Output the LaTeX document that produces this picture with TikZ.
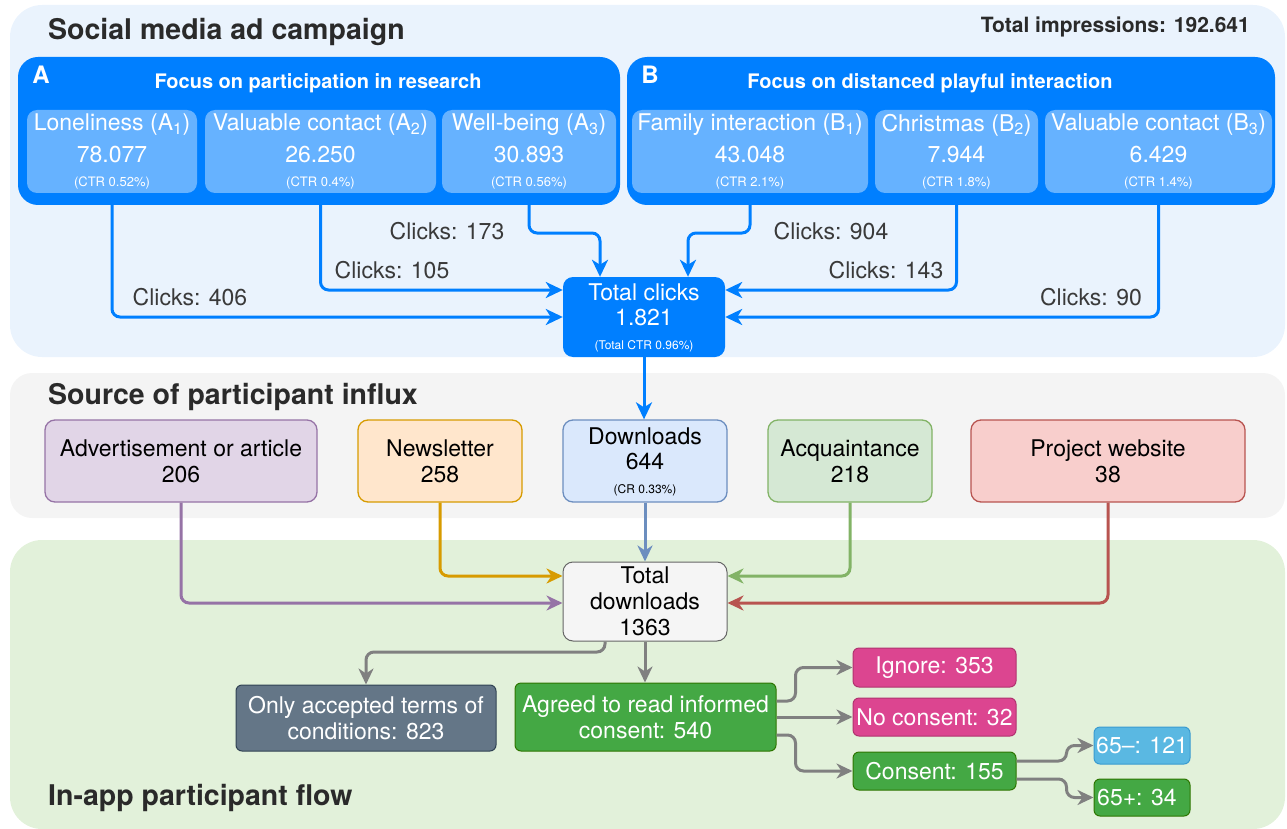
\documentclass[tikz,border=0pt]{standalone}
\usepackage{fontspec}
\setmainfont{TeX Gyre Heros}
\usetikzlibrary{arrows.meta}
\definecolor{cblue}{HTML}{007FFF}
\definecolor{csub}{HTML}{66B2FF}
\definecolor{topbg}{HTML}{EAF3FD}
\definecolor{midbg}{HTML}{F4F4F4}
\definecolor{botbg}{HTML}{E2F1DA}
\definecolor{ttl}{HTML}{2A2A2A}
\definecolor{lbl}{HTML}{3A3A3A}
\definecolor{purF}{HTML}{E1D5E7}\definecolor{purS}{HTML}{9673A6}
\definecolor{oraF}{HTML}{FFE6CC}\definecolor{oraS}{HTML}{D79B00}
\definecolor{bluF}{HTML}{DAE8FC}\definecolor{bluS}{HTML}{6C8EBF}
\definecolor{grnF}{HTML}{D5E8D4}\definecolor{grnS}{HTML}{82B366}
\definecolor{redF}{HTML}{F8CECC}\definecolor{redS}{HTML}{B85450}
\definecolor{gryF}{HTML}{F5F5F5}\definecolor{gryS}{HTML}{666666}
\definecolor{slateF}{HTML}{647687}\definecolor{slateS}{HTML}{314354}
\definecolor{gF}{HTML}{44A844}\definecolor{gS}{HTML}{2D7600}
\definecolor{pF}{HTML}{DC4590}\definecolor{pS}{HTML}{B0336F}
\definecolor{cF}{HTML}{5AB8E2}\definecolor{cS}{HTML}{3A9BD0}
\definecolor{arrG}{HTML}{808080}
\begin{document}
\begin{tikzpicture}[x=1pt,y=-1pt,
  txt/.style={font=\fontsize{23}{26}\selectfont, inner sep=0pt, align=center},
  smalltxt/.style={font=\fontsize{13}{15}\selectfont, inner sep=0pt},
  wtxt/.style={txt, text=white},
  sectitle/.style={font=\bfseries\fontsize{28.5}{30}\selectfont, text=ttl, anchor=west, inner sep=0pt},
  bigbox/.style={fill=cblue, rounded corners=20pt, inner sep=0pt},
  subbox/.style={fill=csub, rounded corners=10pt, inner sep=0pt, minimum height=83pt},
  srcbox/.style={txt, rounded corners=10pt, line width=1.3pt, minimum height=82pt, minimum width=164pt},
  flowbox/.style={wtxt, rounded corners=6pt, line width=1pt},
  barrow/.style={draw=cblue, line width=3pt, rounded corners=8pt, -{Stealth[length=17pt,width=16pt,inset=5pt]}},
  garrow/.style={draw=arrG, line width=3pt, rounded corners=8pt, -{Stealth[length=16pt,width=15pt,inset=5pt]}},
  sarrow/.style={line width=3pt, rounded corners=8pt, -{Stealth[length=16pt,width=15pt,inset=5pt]}},
  clk/.style={txt, text=lbl}
]
\useasboundingbox (0,0) rectangle (1287,829);
% regions
\fill[topbg, rounded corners=32pt] (10,5) rectangle (1285,357);
\fill[midbg, rounded corners=22pt] (10,373) rectangle (1285,518);
\fill[botbg, rounded corners=32pt] (10,540) rectangle (1285,829);
\node[sectitle] (t1) at (48,32) {Social media ad campaign};
\node[font=\bfseries\fontsize{21}{24}\selectfont, text=ttl, anchor=east, inner sep=0pt] (imp) at (1250,27) {Total impressions: 192.641};
\node[sectitle] (t2) at (48,397) {Source of participant influx};
\node[sectitle] (t3) at (48,798) {In-app participant flow};

% campaign boxes
\node[bigbox, minimum width=602pt, minimum height=148pt] (boxA) at (319,131) {};
\node[bigbox, minimum width=648pt, minimum height=148pt] (boxB) at (951,131) {};
\node[font=\bfseries\fontsize{24}{26}\selectfont, text=white, inner sep=0pt] (la) at (41,75) {A};
\node[font=\bfseries\fontsize{24}{26}\selectfont, text=white, inner sep=0pt] (lb) at (650,75) {B};
\node[font=\bfseries\fontsize{20}{22}\selectfont, text=white, inner sep=0pt] (fa) at (318,83) {Focus on participation in research};
\node[font=\bfseries\fontsize{20}{22}\selectfont, text=white, inner sep=0pt] (fb) at (930,83) {Focus on distanced playful interaction};

\node[subbox, minimum width=170pt] (a1) at (112,151.5) {};
\node[subbox, minimum width=231pt] (a2) at (320.5,151.5) {};
\node[subbox, minimum width=174pt] (a3) at (529,151.5) {};
\node[subbox, minimum width=236pt] (b1) at (750,151.5) {};
\node[subbox, minimum width=163pt] (b2) at (956.5,151.5) {};
\node[subbox, minimum width=227pt] (b3) at (1158.5,151.5) {};

\node[wtxt] (a1t) at (112,125) {Loneliness (A\textsubscript{1})};
\node[wtxt] (a1n) at (112,155) {78.077};
\node[smalltxt, text=white] (a1c) at (112,183) {(CTR 0.52\%)};
\node[wtxt] (a2t) at (320.5,125) {Valuable contact (A\textsubscript{2})};
\node[wtxt] (a2n) at (320.5,155) {26.250};
\node[smalltxt, text=white] (a2c) at (320.5,183) {(CTR 0.4\%)};
\node[wtxt] (a3t) at (529,125) {Well-being (A\textsubscript{3})};
\node[wtxt] (a3n) at (529,155) {30.893};
\node[smalltxt, text=white] (a3c) at (529,183) {(CTR 0.56\%)};
\node[wtxt] (b1t) at (750,125) {Family interaction (B\textsubscript{1})};
\node[wtxt] (b1n) at (750,155) {43.048};
\node[smalltxt, text=white] (b1c) at (750,183) {(CTR 2.1\%)};
\node[wtxt] (b2t) at (956.5,125) {Christmas (B\textsubscript{2})};
\node[wtxt] (b2n) at (956.5,155) {7.944};
\node[smalltxt, text=white] (b2c) at (956.5,183) {(CTR 1.8\%)};
\node[wtxt] (b3t) at (1158.5,125) {Valuable contact (B\textsubscript{3})};
\node[wtxt] (b3n) at (1158.5,155) {6.429};
\node[smalltxt, text=white] (b3c) at (1158.5,183) {(CTR 1.4\%)};

% total clicks
\node[fill=cblue, rounded corners=10pt, minimum width=162pt, minimum height=80pt, inner sep=0pt] (tc) at (644,317) {};
\node[wtxt] (tct) at (644,292) {Total clicks};
\node[wtxt] (tcn) at (644,318) {1.821};
\node[smalltxt, text=white, font=\fontsize{12}{14}\selectfont] (tcc) at (644,346) {(Total CTR 0.96\%)};

% click arrows
\coordinate (ja3) at (600,233);
\coordinate (jb1) at (688,233);
\draw[barrow] (a1 |- boxA.south) |- (tc.west);
\draw[barrow] (a2 |- boxA.south) |- ([yshift=27pt]tc.west);
\draw[barrow] (a3 |- boxA.south) |- (ja3) -- (ja3 |- tc.north);
\draw[barrow] (b1 |- boxB.south) |- (jb1) -- (jb1 |- tc.north);
\draw[barrow] (b2 |- boxB.south) |- ([yshift=27pt]tc.east);
\draw[barrow] (b3 |- boxB.south) |- (tc.east);
\node[clk] (c406) at (190,297) {Clicks: 406};
\node[clk] (c105) at (392,270) {Clicks: 105};
\node[clk] (c173) at (447,231) {Clicks: 173};
\node[clk] (c904) at (831,231) {Clicks: 904};
\node[clk] (c143) at (886,270) {Clicks: 143};
\node[clk] (c90) at (1091,297) {Clicks: 90};

% source boxes
\node[srcbox, fill=purF, draw=purS, minimum width=272pt] (adv) at (181,461) {Advertisement or article\\206};
\node[srcbox, fill=oraF, draw=oraS] (news) at (440,461) {Newsletter\\258};
\node[srcbox, fill=bluF, draw=bluS] (dl) at (645,461) {};
\node[txt] (dlt) at (645,436) {Downloads};
\node[txt] (dln) at (645,462) {644};
\node[smalltxt, font=\fontsize{12}{14}\selectfont] (dlc) at (645,490) {(CR 0.33\%)};
\node[srcbox, fill=grnF, draw=grnS] (acq) at (850,461) {Acquaintance\\218};
\node[srcbox, fill=redF, draw=redS, minimum width=274pt] (web) at (1108,461) {Project website\\38};

\draw[barrow] (tc.south) -- (tc.south |- dl.north);

% total downloads
\node[txt, fill=gryF, draw=gryS, line width=1pt, rounded corners=10pt, minimum width=164pt, minimum height=79pt] (td) at (645,601.5) {Total\\downloads\\1363};
\draw[sarrow, draw=purS] (adv.south) |- ([yshift=-1.5pt]td.west);
\draw[sarrow, draw=oraS] (news.south) |- ([yshift=25.5pt]td.west);
\draw[sarrow, draw=bluS] (dl.south) -- (dl.south |- td.north);
\draw[sarrow, draw=grnS] (acq.south) |- ([yshift=25.5pt]td.east);
\draw[sarrow, draw=redS] (web.south) |- ([yshift=-1.5pt]td.east);

% flow boxes
\node[flowbox, fill=slateF, draw=slateS, minimum width=260pt, minimum height=66pt] (only) at (366,718) {Only accepted terms of\\conditions: 823};
\node[flowbox, fill=gF, draw=gS, minimum width=261pt, minimum height=68pt] (agr) at (645.5,717) {Agreed to read informed\\consent: 540};
\node[flowbox, fill=pF, draw=pS, minimum width=163pt, minimum height=39pt] (ign) at (934.5,667.5) {Ignore: 353};
\node[flowbox, fill=pF, draw=pS, minimum width=163pt, minimum height=38pt] (noc) at (934.5,717) {No consent: 32};
\node[flowbox, fill=gF, draw=gS, minimum width=163pt, minimum height=38pt] (con) at (934.5,771) {Consent: 155};
\node[flowbox, fill=cF, draw=cS, minimum width=96pt, minimum height=37pt] (m65) at (1142,745.5) {};
\node[wtxt, anchor=west] (m65t) at (1096,745.5) {65--: 121};
\node[flowbox, fill=gF, draw=gS, minimum width=96pt, minimum height=37pt] (p65) at (1142,797.5) {};
\node[wtxt, anchor=west] (p65t) at (1097,797.5) {65+: 34};

\coordinate (jo) at (605,652);
\draw[garrow] (jo |- td.south) -- (jo) -| (only.north);
\draw[garrow] (td.south) -- (td.south |- agr.north);
\draw[garrow] ([yshift=16pt]agr.east) -- ++(19,0) |- (ign.west);
\draw[garrow] (agr.east) -- (noc.west);
\draw[garrow] ([yshift=-18pt]agr.east) -- ++(19,0) |- (con.west);
\draw[garrow] ([yshift=10pt]con.east) -- ++(50,0) |- (m65.west);
\draw[garrow] ([yshift=-8pt]con.east) -- ++(50,0) |- (p65.west);
\end{tikzpicture}
\end{document}
